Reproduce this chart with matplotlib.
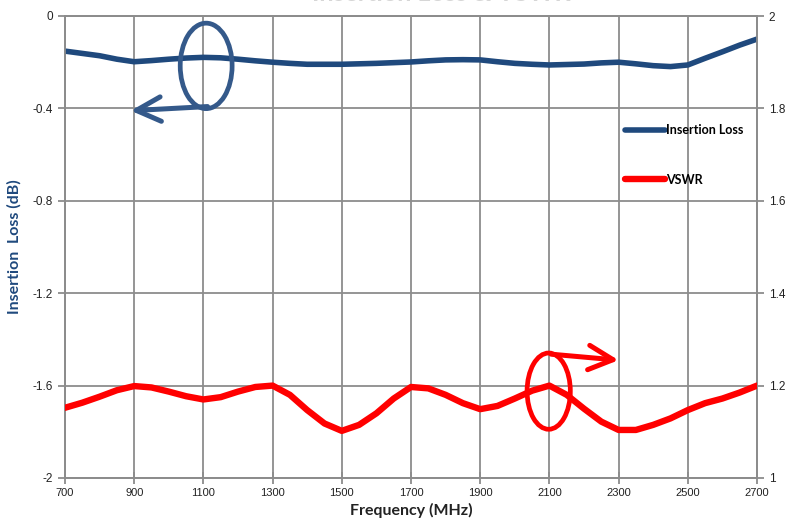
import matplotlib
matplotlib.use("Agg")
import matplotlib.pyplot as plt
from matplotlib.patches import Ellipse

freq = [700, 750, 800, 850, 900, 950, 1000, 1050, 1100, 1150, 1200, 1250, 1300,
        1350, 1400, 1450, 1500, 1550, 1600, 1650, 1700, 1750, 1800, 1850, 1900,
        1950, 2000, 2050, 2100, 2150, 2200, 2250, 2300, 2350, 2400, 2450, 2500,
        2550, 2600, 2650, 2700]
insertion_loss = [-0.152, -0.162, -0.172, -0.187, -0.198, -0.193, -0.187, -0.182,
                  -0.179, -0.181, -0.187, -0.194, -0.200, -0.205, -0.209, -0.209,
                  -0.209, -0.207, -0.205, -0.202, -0.199, -0.194, -0.190, -0.189,
                  -0.190, -0.198, -0.205, -0.209, -0.212, -0.210, -0.208, -0.203,
                  -0.200, -0.207, -0.215, -0.219, -0.212, -0.183, -0.155, -0.126,
                  -0.100]
vswr = [1.152, 1.163, 1.176, 1.190, 1.199, 1.196, 1.187, 1.177, 1.170, 1.175,
        1.187, 1.197, 1.200, 1.180, 1.147, 1.118, 1.102, 1.115, 1.140, 1.172,
        1.197, 1.194, 1.180, 1.162, 1.149, 1.156, 1.172, 1.189, 1.200, 1.180,
        1.150, 1.122, 1.104, 1.104, 1.115, 1.129, 1.147, 1.162, 1.172, 1.185,
        1.200]

x_ticks = [700, 900, 1100, 1300, 1500, 1700, 1900, 2100, 2300, 2500, 2700]
left_ticks = [0, -0.4, -0.8, -1.2, -1.6, -2]
left_labels = ["0", "-0.4", "-0.8", "-1.2", "-1.6", "-2"]
right_ticks = [1, 1.2, 1.4, 1.6, 1.8, 2]
right_labels = ["1", "1.2", "1.4", "1.6", "1.8", "2"]

BLUE = "#1F497D"
ANN_BLUE = "#34598A"
RED = "#FF0000"
GRID = "#8c8c8c"

fig = plt.figure(figsize=(7.88, 5.23), dpi=100)
ax = fig.add_axes([65/788, 1-478/523, (757-65)/788, (478-16)/523])
ax2 = ax.twinx()

ax.set_xlim(700, 2700)
ax.set_ylim(-2, 0)
ax2.set_ylim(1, 2)

ax.set_xticks(x_ticks)
ax.set_xticklabels([str(t) for t in x_ticks], fontsize=8, family="Liberation Sans")
ax.set_yticks(left_ticks)
ax.set_yticklabels(left_labels, fontsize=8.5, family="Liberation Sans")
ax2.set_yticks(right_ticks)
ax2.set_yticklabels(right_labels, fontsize=8.5, family="Liberation Sans")

ax.grid(True, color=GRID, lw=1.3)
ax.set_axisbelow(True)
for a in (ax, ax2):
    for s in a.spines.values():
        s.set_color(GRID)
        s.set_linewidth(1.3)
    a.tick_params(colors=GRID, length=5, width=1.3, labelcolor="#222222")
ax.tick_params(axis="x", direction="inout", length=8)
ax.tick_params(axis="y", direction="out")

l1, = ax.plot(freq, insertion_loss, color=BLUE, lw=4.0, solid_capstyle="round",
              solid_joinstyle="round", label="Insertion Loss", zorder=3)
l2, = ax2.plot(freq, vswr, color=RED, lw=4.6, solid_capstyle="round",
               solid_joinstyle="round", label="VSWR", zorder=3)

ax.set_xlabel("Frequency (MHz)", fontsize=11.5, fontweight="bold", family="Lato",
              color="#222222", labelpad=3)
ax.set_ylabel("Insertion  Loss (dB)", fontsize=11.5, fontweight="bold", family="Lato",
              color=BLUE, labelpad=8)

# annotations
ax.add_patch(Ellipse((1108, -0.216), 150, 0.37, fill=False, ec=ANN_BLUE, lw=3.4, zorder=4))
ax.annotate("", xy=(890, -0.41), xytext=(1112, -0.392),
            arrowprops=dict(arrowstyle="->", color=ANN_BLUE, lw=3.6,
                            mutation_scale=44, shrinkA=0, shrinkB=0), zorder=4)
ax2.add_patch(Ellipse((2098, 1.188), 125, 0.165, fill=False, ec=RED, lw=3.4, zorder=4))
ax2.annotate("", xy=(2300, 1.255), xytext=(2105, 1.268),
             arrowprops=dict(arrowstyle="->", color=RED, lw=3.6,
                             mutation_scale=44, shrinkA=0, shrinkB=0), zorder=4)

leg = ax2.legend(handles=[l1, l2], loc="upper left", bbox_to_anchor=(0.793, 0.79),
                 frameon=False, prop={"family": "Lato", "weight": "bold", "size": 9},
                 handlelength=3.2, handletextpad=0.05, labelspacing=3.0)

fig.text(441/788, 1 - 5/523, "Insertion Loss & VSWR", ha="center", va="bottom",
         fontsize=18, fontweight="bold", family="Lato", color="#d6d6d6")

fig.savefig("out.png", dpi=100)
